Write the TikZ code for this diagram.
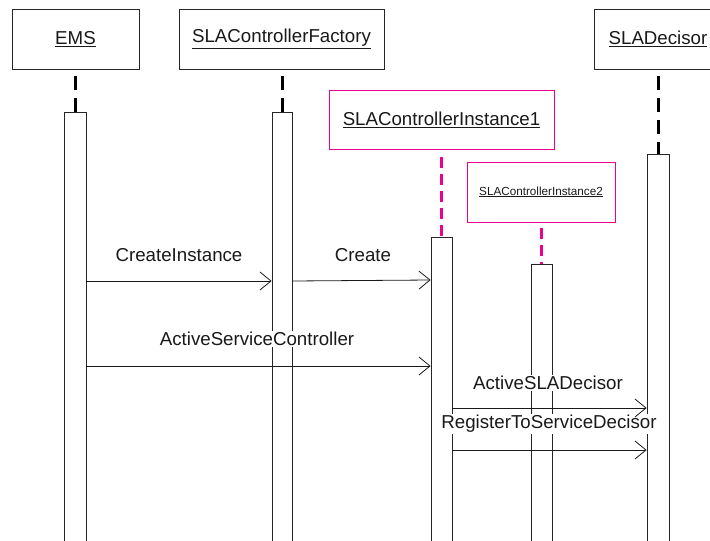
\documentclass[tikz,border=0pt]{standalone}
\usepackage{fontspec}
\setmainfont{Liberation Sans}
\usetikzlibrary{arrows.meta}
\begin{document}
\begin{tikzpicture}[x=1pt,y=-1pt,
  obj/.style={draw=black!85, line width=0.8pt, minimum height=60pt, inner sep=0pt,
    font=\fontsize{18.7}{21}\selectfont, text=black!90},
  instobj/.style={obj, draw=magenta},
  act/.style={draw=black!85, fill=white, line width=0.8pt, minimum height=520pt,
    anchor=north, inner sep=0pt},
  life/.style={line width=3pt, dash pattern=on 14pt off 8pt},
  mlife/.style={line width=3pt, draw=magenta, dash pattern=on 11pt off 6pt},
  msg/.style={line width=0.8pt, draw=black!90, -{Straight Barb[length=11pt,width=18pt,line width=0.8pt]}},
  lbl/.style={fill=white, inner sep=1pt, font=\fontsize{18.7}{21}\selectfont, text=black!90}]
\useasboundingbox (0,0) rectangle (710,541);
\clip (0,0) rectangle (710,541);

% objects
\node[obj, minimum width=127pt] (ems) at (75.5,39) {\underline{EMS}};
\node[obj, minimum width=205pt] (fac) at (281.5,39) {\underline{SLAControllerFactory}};
\node[obj, minimum width=128pt] (dec) at (658,39) {\underline{SLADecisor}};
\node[instobj, minimum width=225pt, minimum height=59pt] (i1) at (441.5,119.5) {\underline{SLAControllerInstance1}};
\node[instobj, minimum width=148pt, font=\fontsize{11.7}{13}\selectfont] (i2) at (541,192) {\underline{SLAControllerInstance2}};

% activations
\node[act, minimum width=22pt] (emsA) at (75,112) {};
\node[act, minimum width=20pt] (facA) at (282,112) {};
\node[act, minimum width=21pt] (i1A) at (441.5,237) {};
\node[act, minimum width=21pt] (i2A) at (541.5,264) {};
\node[act, minimum width=22pt] (decA) at (658,154) {};

% lifelines
\draw[life] ([yshift=-7pt]ems.south -| emsA.north) -- (emsA.north);
\draw[life] ([yshift=-7pt]fac.south -| facA.north) -- (facA.north);
\draw[life] ([yshift=-7pt]dec.south -| decA.north) -- (decA.north);
\draw[mlife] ([yshift=-8pt]i1.south -| i1A.north) -- (i1A.north);
\draw[mlife] ([yshift=-6pt]i2.south -| i2A.north) -- (i2A.north);

% labels
\node[lbl] (l1) at (179,255) {CreateInstance};
\node[lbl] (l2) at (363,255) {Create};
\node[lbl] (l3) at (257,339) {ActiveServiceController};
\node[lbl] (l4) at (548,383) {ActiveSLADecisor};
\node[lbl] (l5) at (549,424) {RegisterToServiceDecisor};

% messages
\draw[msg] (emsA.east |- 0,281) -- (facA.west |- 0,281);
\draw[msg] (facA.east |- 0,281) -- (i1A.west |- 0,280);
\draw[msg] (emsA.east |- 0,366) -- (i1A.west |- 0,366);
\draw[msg] (i1A.east |- 0,408) -- (decA.west |- 0,408);
\draw[msg] (i1A.east |- 0,450) -- (decA.west |- 0,450);
\end{tikzpicture}
\end{document}
